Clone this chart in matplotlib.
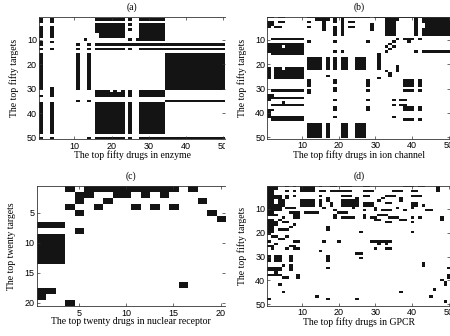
import numpy as np
import matplotlib
matplotlib.use("Agg")
import matplotlib.pyplot as plt
from matplotlib.colors import ListedColormap
from matplotlib.transforms import Bbox, TransformedBbox

# black cells of each interaction matrix: (row_from, row_to, col_from, col_to), 1-based, inclusive
a_blocks = [
    (2, 3, 1, 1), (5, 9, 1, 1), (11, 12, 1, 1), (14, 14, 1, 1), (16, 30, 1, 1), (33, 33, 1, 1),
    (36, 48, 1, 1), (50, 50, 1, 1),
    (2, 3, 4, 4), (5, 9, 4, 4), (11, 11, 4, 4), (14, 14, 4, 4), (30, 33, 4, 4), (36, 48, 4, 4), (50, 50, 4, 4),
    (12, 12, 11, 11), (14, 14, 11, 11), (16, 30, 11, 11), (35, 35, 11, 11), (10, 10, 13, 13),
    (12, 12, 14, 14), (14, 14, 14, 14), (16, 30, 14, 14), (35, 35, 14, 14), (50, 50, 14, 14),
    (2, 2, 16, 23), (4, 7, 16, 23), (8, 9, 17, 23), (12, 12, 16, 34), (14, 14, 16, 23),
    (2, 2, 25, 25), (4, 4, 25, 25), (6, 6, 25, 25), (10, 10, 25, 25), (14, 14, 25, 25),
    (10, 10, 27, 27), (2, 2, 28, 34), (4, 10, 28, 34), (14, 14, 28, 34),
    (12, 12, 35, 50), (14, 14, 35, 50), (16, 30, 35, 50), (35, 35, 35, 50),
    (31, 31, 16, 19), (31, 31, 21, 21), (31, 31, 23, 23), (32, 33, 16, 23), (31, 33, 25, 25), (31, 33, 28, 34),
    (36, 48, 16, 23), (36, 48, 25, 25), (36, 48, 28, 34),
    (50, 50, 16, 23), (50, 50, 25, 25), (50, 50, 28, 50),
]

b_blocks = [
    (1, 1, 1, 2), (1, 1, 4, 5), (3, 4, 1, 2), (3, 3, 4, 5), (5, 5, 1, 1), (5, 5, 3, 4),
    (1, 1, 12, 28), (1, 1, 30, 50),
    (3, 3, 12, 12), (5, 5, 12, 12), (2, 2, 14, 17), (3, 6, 16, 16),
    (2, 3, 19, 19), (5, 8, 19, 19), (2, 8, 21, 21), (3, 3, 23, 24), (5, 5, 23, 24), (4, 6, 29, 29),
    (2, 8, 33, 35), (2, 2, 36, 36), (2, 8, 41, 41), (2, 3, 43, 50), (4, 5, 44, 50), (6, 8, 43, 50),
    (10, 10, 2, 10), (12, 12, 1, 10), (13, 13, 1, 4), (13, 13, 6, 10), (14, 15, 1, 10), (16, 16, 2, 10),
    (11, 11, 12, 12), (11, 11, 19, 19), (11, 11, 28, 28), (15, 15, 19, 19), (15, 15, 21, 21),
    (10, 10, 36, 36), (10, 10, 38, 40), (10, 10, 42, 42), (11, 11, 35, 35), (11, 11, 39, 39),
    (12, 12, 34, 34), (13, 13, 33, 33), (13, 13, 35, 35), (14, 14, 34, 34), (15, 15, 33, 33),
    (15, 15, 41, 41), (15, 15, 43, 50),
    (18, 22, 12, 15), (18, 22, 17, 17), (18, 22, 19, 19), (18, 22, 21, 22), (18, 22, 25, 27),
    (16, 22, 31, 31), (23, 23, 33, 33), (24, 25, 34, 34), (21, 23, 36, 36), (26, 26, 31, 31), (25, 25, 17, 17),
    (22, 26, 1, 1), (22, 22, 3, 4), (22, 22, 6, 10), (23, 26, 3, 10),
    (31, 31, 2, 10), (33, 33, 1, 2), (34, 34, 1, 10), (35, 35, 1, 1), (36, 36, 5, 5), (37, 37, 2, 10),
    (39, 39, 1, 2), (40, 42, 1, 1), (42, 43, 2, 10),
    (27, 29, 12, 12), (31, 32, 12, 12),
    (27, 28, 19, 19), (30, 31, 19, 19), (35, 35, 19, 19), (38, 39, 19, 19), (42, 42, 19, 19),
    (27, 29, 28, 28), (31, 31, 28, 28), (35, 35, 28, 28), (38, 39, 28, 28),
    (27, 29, 38, 40), (27, 29, 42, 42), (31, 31, 38, 40), (31, 31, 42, 42),
    (35, 35, 35, 35), (35, 35, 37, 38), (37, 37, 35, 35), (37, 37, 37, 38),
    (38, 39, 38, 40), (38, 39, 42, 42), (42, 42, 35, 35), (43, 43, 38, 40), (43, 43, 42, 42),
    (45, 50, 12, 15), (45, 50, 17, 17), (45, 50, 21, 22), (45, 50, 25, 27),
]

c_blocks = [
    (1, 1, 4, 4), (1, 1, 6, 15), (1, 1, 17, 17),
    (2, 2, 5, 6), (2, 2, 9, 10), (2, 2, 12, 12), (2, 2, 14, 14),
    (3, 3, 5, 5), (3, 3, 8, 8), (3, 3, 18, 18),
    (4, 4, 4, 4), (4, 4, 7, 7), (4, 4, 11, 11), (4, 4, 13, 13), (4, 4, 15, 15),
    (5, 5, 5, 5), (5, 5, 19, 19), (6, 6, 20, 20),
    (7, 7, 1, 3), (8, 8, 5, 5), (9, 13, 1, 3),
    (17, 17, 16, 16), (18, 18, 1, 2), (19, 19, 1, 1), (20, 20, 4, 4),
]

d_blocks = [
    (1, 13, 1, 2), (1, 2, 3, 3), (5, 6, 3, 3), (9, 11, 3, 3),
    (1, 1, 6, 6), (1, 1, 8, 8), (3, 3, 6, 6), (3, 3, 8, 8),
    (5, 6, 4, 4), (5, 6, 6, 6), (5, 5, 8, 8), (7, 9, 4, 5),
    (10, 11, 4, 4), (10, 10, 6, 8), (12, 12, 7, 9),
    (13, 13, 3, 3), (13, 14, 8, 9), (14, 14, 5, 5),
    (15, 18, 1, 2), (15, 15, 4, 4), (16, 17, 3, 3), (16, 16, 5, 6), (17, 17, 8, 8), (18, 18, 7, 7),
    (19, 20, 1, 2), (19, 19, 4, 6), (21, 21, 1, 1), (22, 22, 2, 3), (22, 22, 6, 6), (23, 23, 4, 5),
    (24, 24, 1, 1), (24, 24, 8, 9), (25, 25, 3, 3), (26, 26, 1, 2), (26, 26, 7, 8),
    (27, 27, 2, 2), (27, 27, 6, 6), (27, 27, 8, 9),
    (30, 32, 1, 1), (30, 32, 3, 4), (30, 32, 7, 7),
    (34, 34, 5, 5), (34, 36, 7, 7), (35, 36, 1, 4), (37, 37, 3, 3), (38, 38, 1, 4), (38, 39, 9, 9), (39, 39, 5, 6),
    (42, 42, 4, 4), (45, 45, 5, 5), (48, 48, 1, 1),
    (1, 3, 10, 13), (7, 9, 10, 13), (7, 9, 15, 15), (12, 12, 11, 14),
    (1, 1, 15, 15), (1, 1, 18, 19), (1, 1, 21, 23), (1, 1, 27, 28), (1, 1, 38, 40), (1, 1, 42, 43), (1, 3, 47, 47),
    (3, 3, 15, 16), (3, 3, 18, 20), (3, 3, 21, 23), (3, 3, 27, 29), (3, 3, 35, 37), (3, 3, 40, 41),
    (5, 5, 15, 15), (6, 6, 17, 17), (5, 5, 21, 23), (6, 6, 25, 25), (5, 5, 27, 28), (6, 6, 32, 32),
    (5, 5, 33, 35), (6, 6, 37, 37), (5, 5, 40, 42),
    (7, 7, 17, 17), (8, 9, 18, 18), (7, 9, 21, 25), (8, 9, 27, 29), (7, 7, 31, 31), (8, 8, 33, 34),
    (7, 7, 37, 37), (8, 9, 40, 41), (9, 9, 43, 43),
    (10, 10, 16, 16), (11, 11, 19, 19), (10, 10, 24, 24), (11, 11, 27, 27), (10, 11, 30, 30), (11, 11, 32, 34),
    (10, 10, 36, 36), (11, 11, 38, 38), (10, 10, 40, 40), (11, 11, 44, 45),
    (12, 12, 20, 22),
    (13, 14, 19, 19), (14, 14, 21, 24), (13, 14, 27, 27), (14, 14, 29, 30), (13, 13, 31, 33), (14, 14, 34, 35),
    (14, 14, 36, 36), (15, 15, 38, 38), (14, 14, 40, 40), (14, 14, 42, 42), (14, 15, 48, 48),
    (15, 15, 30, 31), (16, 16, 33, 34), (15, 15, 37, 37), (16, 16, 40, 40),
    (18, 19, 17, 17), (20, 20, 26, 26), (20, 20, 40, 40),
    (24, 24, 16, 16), (24, 24, 20, 20), (24, 24, 29, 34), (25, 25, 31, 31), (25, 25, 33, 33),
    (27, 27, 30, 30), (27, 27, 33, 34),
    (28, 28, 15, 15), (29, 29, 25, 26), (31, 31, 26, 26), (30, 32, 17, 17), (35, 35, 17, 17), (33, 34, 43, 43),
    (35, 35, 50, 50), (38, 39, 50, 50), (40, 40, 48, 48), (41, 42, 49, 49), (44, 44, 46, 46), (45, 45, 37, 37),
    (47, 47, 14, 14), (47, 47, 45, 45), (48, 48, 17, 17), (48, 48, 25, 25), (49, 49, 49, 49),
]

sizes = [50, 50, 20, 50]
panel_titles = ["(a)", "(b)", "(c)", "(d)"]
x_labels = ["The top fifty drugs in enzyme", "The top fifty drugs in ion channel",
            "The top twenty drugs in nuclear receptor", "The top fifty drugs in GPCR"]
y_labels = ["The top fifty targets", "The top fifty targets",
            "The top twenty targets", "The top fifty targets"]
ticks_50 = [10, 20, 30, 40, 50]
ticks_20 = [5, 10, 15, 20]


def build(blocks, n):
    m = np.zeros((n, n))
    for r0, r1, c0, c1 in blocks:
        m[r0 - 1:r1, c0 - 1:c1] = 1
    return m


W, H = 450, 336
fig = plt.figure(figsize=(W / 100, H / 100), dpi=100)
fig.patch.set_facecolor("white")

# axes boxes in pixels: left, top, right, bottom
boxes = [(39, 16.8, 225, 138.9), (267.3, 16.8, 450.4, 138.5),
         (36.5, 186, 225.3, 306), (267.3, 186, 450.4, 305.5)]
cmap = ListedColormap(["white", "#141414"])
serif = "Liberation Serif"
sans = "Liberation Sans"
clip = TransformedBbox(Bbox([[0, 0], [225 / W, 1]]), fig.transFigure)

for i, blocks in enumerate([a_blocks, b_blocks, c_blocks, d_blocks]):
    n = sizes[i]
    l, t, r, b = boxes[i]
    ax = fig.add_axes([l / W, 1 - b / H, (r - l) / W, (b - t) / H])
    ax.imshow(build(blocks, n), cmap=cmap, vmin=0, vmax=1, aspect="auto",
              interpolation="nearest", extent=(0.5, n + 0.5, n + 0.5, 0.5))
    ticks = ticks_50 if n == 50 else ticks_20
    ax.set_xticks(ticks)
    ax.set_yticks(ticks)
    ax.tick_params(direction="in", top=True, right=True, length=2.4, width=0.5,
                   labelsize=6.5, color="#333333", pad=2)
    ax.tick_params(axis="y", pad=1.5)
    for lab in ax.get_xticklabels() + ax.get_yticklabels():
        lab.set_fontfamily(sans)
    for s in ax.spines.values():
        s.set_linewidth(0.6)
        s.set_color("#333333")
    if i in (0, 2):
        ax.spines["right"].set_visible(False)
        for lab in ax.get_xticklabels():
            lab.set_clip_box(clip)
            lab.set_clip_on(True)
    hpx = b - t
    wpx = r - l
    ax.set_xlabel(x_labels[i], fontfamily=serif, fontsize=7)
    ax.xaxis.set_label_coords(((l + r) / 2 - l) / wpx, -11.5 / hpx)
    ax.set_ylabel(y_labels[i], fontfamily=serif, fontsize=7)
    ax.yaxis.set_label_coords(-20 / wpx, 0.5)
    ax.text(0.5, 1 + 9.5 / hpx, panel_titles[i], transform=ax.transAxes, ha="center",
            va="center", fontfamily=serif, fontsize=7)

fig.savefig("out.png", dpi=100)
